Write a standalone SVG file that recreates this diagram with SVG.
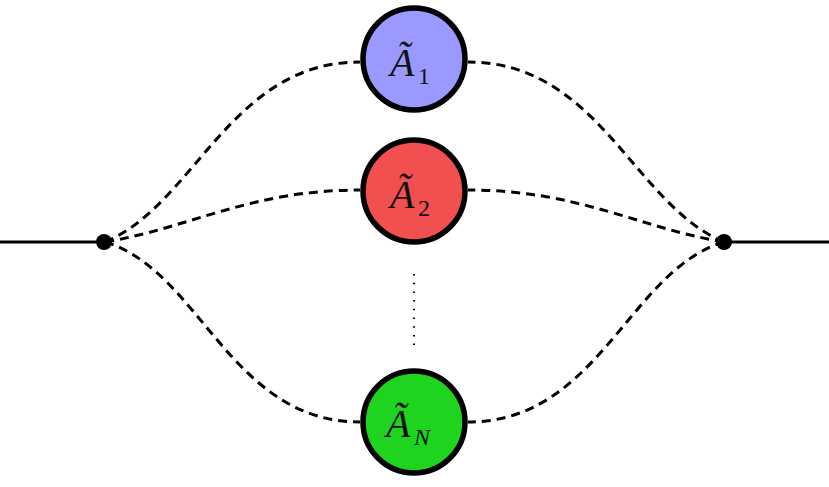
<svg xmlns="http://www.w3.org/2000/svg" width="829" height="487" viewBox="0 0 829 487">
<style>
.solid{stroke:#000;stroke-width:3;fill:none}
.dash{stroke:#000;stroke-width:3;fill:none;stroke-dasharray:9 6}
.node{stroke:#000;stroke-width:5.5}
.lbl{font-family:"Liberation Serif",serif;font-style:italic;font-size:40px;fill:#111}
.sub{font-family:"Liberation Serif",serif;font-size:24px;fill:#111}
.subi{font-family:"Liberation Serif",serif;font-style:italic;font-size:24px;fill:#111}
</style>
<rect width="829" height="487" fill="#fff"/>
<g id="connectors">
<line class="solid" x1="0" y1="242" x2="105" y2="242"/>
<line class="solid" x1="724" y1="242" x2="829" y2="242"/>
<path class="dash" d="M105,242 C195,205 230,62 360,62"/>
<path class="dash" d="M105,242 C190,228 250,190 360,190"/>
<path class="dash" d="M105,242 C200,270 230,422 360,422"/>
<path class="dash" d="M724,242 C634,205 599,62 468,62"/>
<path class="dash" d="M724,242 C639,228 579,190 468,190"/>
<path class="dash" d="M724,242 C629,270 599,422 468,422"/>
<line x1="414" y1="274" x2="414" y2="348" stroke="#000" stroke-width="2" stroke-dasharray="1.5 7.2"/>
</g>
<g id="dot-left"><circle cx="104" cy="242" r="8" fill="#000"/></g>
<g id="dot-right"><circle cx="724" cy="242" r="8" fill="#000"/></g>
<g id="A1">
<circle class="node" cx="414" cy="59" r="51" fill="#9999ff"/>
<text class="lbl" x="390" y="76">Ã</text><text class="sub" x="418" y="84">1</text>
</g>
<g id="A2">
<circle class="node" cx="414" cy="191" r="51" fill="#f25050"/>
<text class="lbl" x="390" y="208">Ã</text><text class="sub" x="418" y="216">2</text>
</g>
<g id="AN">
<circle class="node" cx="414" cy="422" r="51" fill="#1ed41e"/>
<text class="lbl" x="386" y="437">Ã</text><text class="subi" x="414" y="445">N</text>
</g>
</svg>
